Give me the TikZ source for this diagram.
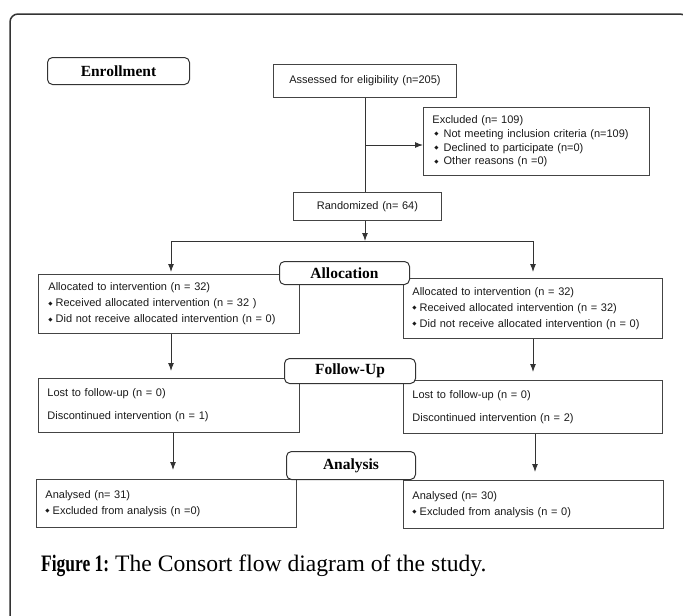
\documentclass[tikz,border=0pt]{standalone}
\usepackage{fontspec}
\usepackage{graphicx}
\setmainfont{Liberation Serif}
\setsansfont{Liberation Sans}
\newfontfamily\dejavu{DejaVu Sans}
\usetikzlibrary{arrows.meta}
\definecolor{linegray}{HTML}{333333}
\definecolor{boxgray}{HTML}{444444}
\definecolor{txt}{HTML}{1A1A1A}
\newcommand\bul{\raisebox{1.8pt}{\dejavu\fontsize{5.5}{5.5}\selectfont ◆}}
\begin{document}
\begin{tikzpicture}[x=1pt,y=-1pt,
  tbox/.style={draw=boxgray, line width=0.9pt, anchor=north west, inner ysep=0pt,
    align=left, text=txt, font=\sffamily\fontsize{11}{16}\selectfont},
  cbox/.style={tbox, align=center},
  stage/.style={draw=linegray, line width=1pt, rounded corners=5pt, fill=white,
    anchor=north west, inner sep=0pt, text=black,
    font=\rmfamily\bfseries\fontsize{15.5}{16}\selectfont},
  conn/.style={draw=linegray, line width=1pt},
  arr/.style={conn, -{Latex[length=8pt,width=6pt]}}]
\useasboundingbox (0,0) rectangle (683,616);
\fill[white] (0,0) rectangle (683,616);
% outer frame: only its top and left sides fall inside the page
\draw[linegray, line width=1.5pt, rounded corners=8pt] (10,660) -- (10,14) -- (688,14) -- (688,40);

% enrollment
\node[stage, minimum width=142pt, minimum height=27pt] (enr) at (47,57) {Enrollment};
\node[cbox, text width=167pt, inner xsep=8pt, minimum height=33pt] (ass) at (273,64) {Assessed for eligibility (n=205)};
\node[tbox, text width=208pt, inner xsep=9pt, minimum height=68pt,
      font=\sffamily\fontsize{11}{13.7}\selectfont] (exc) at (423,107)
  {Excluded (n= 109)\\
   \hspace*{2pt}\bul\hspace{5pt}Not meeting inclusion criteria (n=109)\\
   \hspace*{2pt}\bul\hspace{5pt}Declined to participate (n=0)\\
   \hspace*{2pt}\bul\hspace{5pt}Other reasons (n =0)};
\node[cbox, text width=132pt, inner xsep=8pt, minimum height=28pt] (rnd) at (293,192) {Randomized (n= 64)};

\coordinate (j1) at (365,145);
\coordinate (split) at (365,241);
\coordinate (sl) at (171,241);
\coordinate (sr) at (533,241);
\draw[conn] (ass.south -| j1) -- (rnd.north -| j1);
\draw[arr] (j1) -- (j1 -| exc.west);
\draw[arr] (rnd.south -| split) -- (split);
\draw[conn] (sl) -- (sr);

% allocation
\node[tbox, text width=241pt, inner xsep=10pt, minimum height=59pt] (al) at (38,274)
  {Allocated to intervention (n = 32)\\
   \bul\hspace{3pt}Received allocated intervention (n = 32 )\\
   \bul\hspace{3pt}Did not receive allocated intervention (n = 0)};
\node[tbox, text width=241pt, inner xsep=9pt, minimum height=60pt] (ar) at (403,278)
  {Allocated to intervention (n = 32)\\
   \bul\hspace{3pt}Received allocated intervention (n = 32)\\
   \bul\hspace{3pt}Did not receive allocated intervention (n = 0)};
\coordinate (tl1) at (171,272);
\coordinate (tr1) at (533,272);
\draw[arr] (sl) -- (tl1);
\draw[arr] (sr) -- (tr1);
\node[stage, minimum width=130pt, minimum height=23pt] (alloc) at (279,261) {Allocation};

% follow-up
\node[tbox, text width=243pt, inner xsep=9pt, minimum height=54pt] (fl) at (38,378)
  {Lost to follow-up (n = 0)\\[7pt]
   Discontinued intervention (n = 1)};
\node[tbox, text width=241pt, inner xsep=9pt, minimum height=53pt] (fr) at (403,380)
  {Lost to follow-up (n = 0)\\[7pt]
   Discontinued intervention (n = 2)};
\coordinate (tl2) at (171,371);
\coordinate (tr2) at (533,372);
\draw[arr] (al.south -| tl2) -- (tl2);
\draw[arr] (ar.south -| tr2) -- (tr2);
\node[stage, minimum width=131pt, minimum height=25pt] (fu) at (284,358) {Follow-Up};

% analysis
\node[tbox, text width=242pt, inner xsep=9pt, minimum height=48pt] (nl) at (36,479)
  {Analysed (n= 31)\\
   \bul\hspace{3pt}Excluded from analysis (n =0)};
\node[tbox, text width=242pt, inner xsep=9pt, minimum height=48pt] (nr) at (403,480)
  {Analysed (n= 30)\\
   \bul\hspace{3pt}Excluded from analysis (n = 0)};
\coordinate (tl3) at (173,470);
\coordinate (tr3) at (535,472);
\draw[arr] (fl.south -| tl3) -- (tl3);
\draw[arr] (fr.south -| tr3) -- (tr3);
\node[stage, minimum width=129pt, minimum height=28pt] (ana) at (286,451) {Analysis};

% caption
\node[anchor=base west, inner sep=0pt, font=\fontsize{23.6}{25}\selectfont] (cap) at (41,571)
  {\scalebox{0.74}[1]{\textbf{Figure 1:}} The Consort flow diagram of the study.};
\end{tikzpicture}
\end{document}
